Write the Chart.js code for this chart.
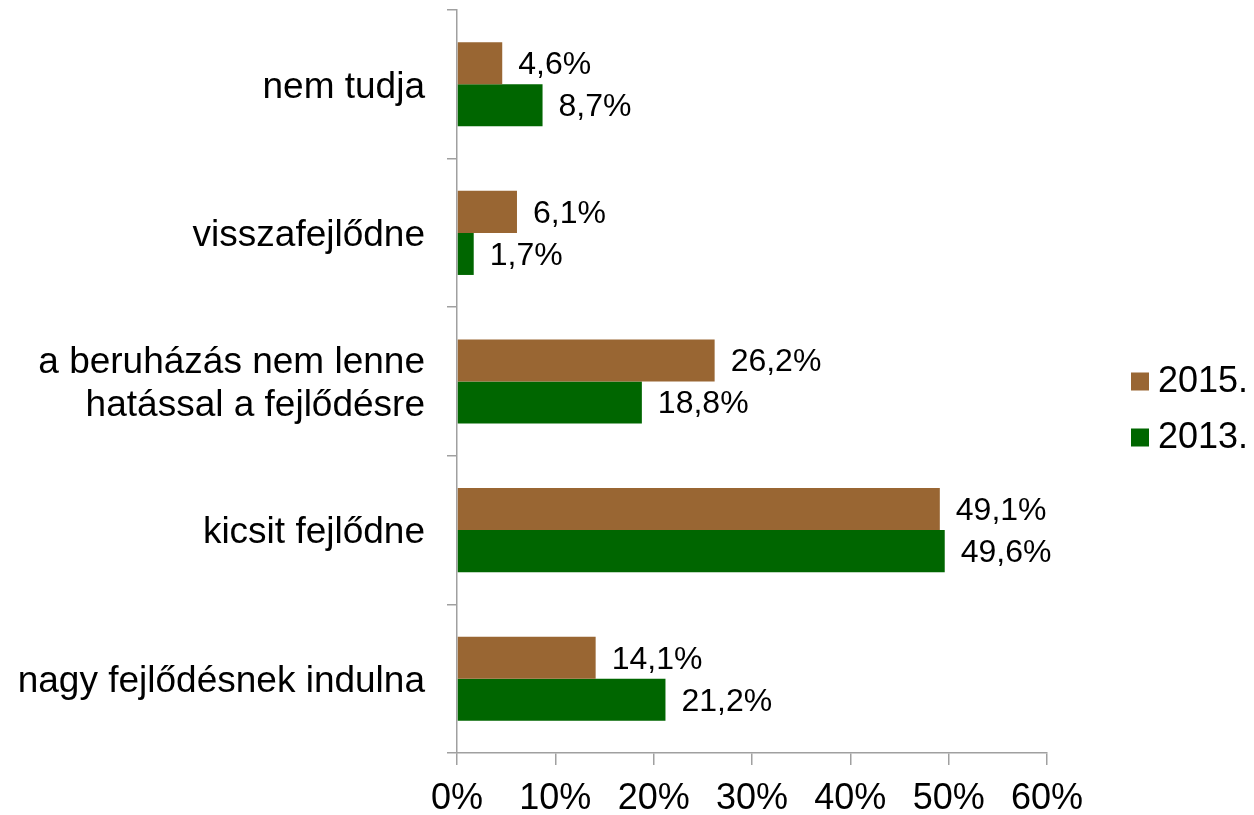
<!DOCTYPE html>
<html>
<head>
<meta charset="utf-8">
<script src="https://cdn.jsdelivr.net/npm/chart.js@4.4.0/dist/chart.umd.min.js"></script>
<style>
html,body{margin:0;padding:0;background:#fff;}
#wrap{width:1254px;height:815px;position:relative;}
</style>
</head>
<body>
<div id="wrap"><canvas id="c" width="1254" height="815"></canvas></div>
<script>
const categories = [
  'nem tudja',
  'visszafejlődne',
  ['a beruházás nem lenne', 'hatással a fejlődésre'],
  'kicsit fejlődne',
  'nagy fejlődésnek indulna'
];
const seriesNames = ['2015.', '2013.'];
const values2015 = [4.6, 6.1, 26.2, 49.1, 14.1];
const values2013 = [8.7, 1.7, 18.8, 49.6, 21.2];
const xTicks = [0, 10, 20, 30, 40, 50, 60];

const FONT = '"Liberation Sans", Arial, sans-serif';

const dataLabels = {
  id: 'dataLabels',
  afterDatasetsDraw(chart) {
    const ctx = chart.ctx;
    ctx.save();
    ctx.font = '32px ' + FONT;
    ctx.fillStyle = '#000';
    ctx.textBaseline = 'middle';
    ctx.textAlign = 'left';
    chart.data.datasets.forEach((ds, di) => {
      const meta = chart.getDatasetMeta(di);
      meta.data.forEach((bar, i) => {
        const txt = ds.data[i].toFixed(1).replace('.', ',') + '%';
        ctx.fillText(txt, bar.x + 16, bar.y + 2);
      });
    });
    ctx.restore();
  }
};

const customLegend = {
  id: 'customLegend',
  afterDraw(chart) {
    const ctx = chart.ctx;
    const a = chart.chartArea;
    const cy = (a.top + a.bottom) / 2;
    ctx.save();
    ctx.font = '36px ' + FONT;
    ctx.textBaseline = 'middle';
    ctx.textAlign = 'left';
    chart.data.datasets.forEach((ds, i) => {
      const y = cy + i * 56;
      ctx.fillStyle = ds.backgroundColor;
      ctx.fillRect(a.right + 84, y - 9, 18, 18);
      ctx.fillStyle = '#000';
      ctx.fillText(ds.label, a.right + 111, y + 1);
    });
    ctx.restore();
  }
};

new Chart(document.getElementById('c'), {
  type: 'bar',
  data: {
    labels: categories,
    datasets: [
      { label: seriesNames[0], data: values2015, backgroundColor: '#996633' },
      { label: seriesNames[1], data: values2013, backgroundColor: '#006600' }
    ]
  },
  options: {
    indexAxis: 'y',
    responsive: false,
    animation: false,
    datasets: { bar: { categoryPercentage: 0.566, barPercentage: 1.0 } },
    layout: { padding: { top: 10, right: 207, left: 0, bottom: 0 } },
    plugins: { legend: { display: false }, tooltip: { enabled: false } },
    scales: {
      x: {
        min: 0, max: 60,
        afterBuildTicks(scale) { scale.ticks = xTicks.map(v => ({ value: v })); },
        afterFit(scale) { scale.height = 62; scale.paddingLeft = 0; scale.paddingRight = 0; },
        border: { display: true, color: '#a0a0a0', width: 1.5 },
        grid: { drawOnChartArea: false, drawTicks: true, tickLength: 12, color: '#a0a0a0', lineWidth: 1.5 },
        ticks: {
          color: '#000',
          font: { family: FONT, size: 36 },
          padding: 12,
          maxRotation: 0,
          callback: v => v + '%'
        }
      },
      y: {
        afterFit(scale) { scale.width = 457; scale.paddingTop = 0; scale.paddingBottom = 0; },
        border: { display: true, color: '#a0a0a0', width: 1.5 },
        grid: { drawOnChartArea: false, drawTicks: true, tickLength: 10, color: '#a0a0a0', lineWidth: 1.5, offset: true },
        ticks: {
          color: '#000',
          font: { family: FONT, size: 37, lineHeight: 1.17 },
          padding: 22,
          labelOffset: 3
        }
      }
    }
  },
  plugins: [dataLabels, customLegend]
});
</script>
</body>
</html>
